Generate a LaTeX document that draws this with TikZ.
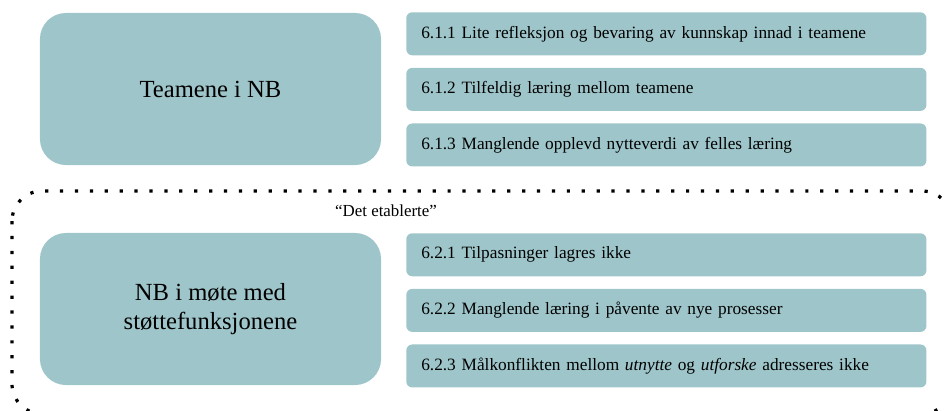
\documentclass[tikz,border=0pt]{standalone}
\usepackage{fontspec}
\setmainfont{Liberation Serif}
\usetikzlibrary{positioning}
\definecolor{nbteal}{HTML}{9EC6CA}

\begin{document}
\begin{tikzpicture}[x=0.025cm, y=-0.025cm, node distance=0.3cm,
  bigbox/.style={fill=nbteal, rounded corners=0.65cm, minimum width=8.525cm,
    minimum height=3.8cm, align=center, font=\fontsize{17.5}{21}\selectfont},
  itembox/.style={fill=nbteal, rounded corners=0.15cm, minimum height=1.075cm,
    inner xsep=0.375cm, text width=12.25cm, align=left,
    font=\fontsize{12.3}{15}\selectfont},
  framebox/.style={line width=2.3pt, dash pattern=on 2.3pt off 8.3pt,
    rounded corners=0.75cm}]
  \useasboundingbox (0,0) rectangle (944,410);
  \clip (0,0) rectangle (944,410);

  % teams
  \node[bigbox] (teams) at (210.5,89) {Teamene i NB};
  \node[itembox, anchor=north west] (t1) at (406,12) {6.1.1 Lite refleksjon og bevaring av kunnskap innad i teamene};
  \node[itembox, below=of t1] (t2) {6.1.2 Tilfeldig læring mellom teamene};
  \node[itembox, below=of t2] (t3) {6.1.3 Manglende opplevd nytteverdi av felles læring};

  % the established
  \draw[framebox] (12,191) rectangle (952,414);
  \node[font=\fontsize{12}{14}\selectfont] (established) at (386,211) {“Det etablerte”};

  \node[bigbox] (support) at (210.5,309) {NB i møte med\\støttefunksjonene};
  \node[itembox, anchor=north west] (s1) at (406,233) {6.2.1 Tilpasninger lagres ikke};
  \node[itembox, below=of s1] (s2) {6.2.2 Manglende læring i påvente av nye prosesser};
  \node[itembox, below=of s2] (s3) {6.2.3 Målkonflikten mellom \textit{utnytte} og \textit{utforske} adresseres ikke};
\end{tikzpicture}
\end{document}
